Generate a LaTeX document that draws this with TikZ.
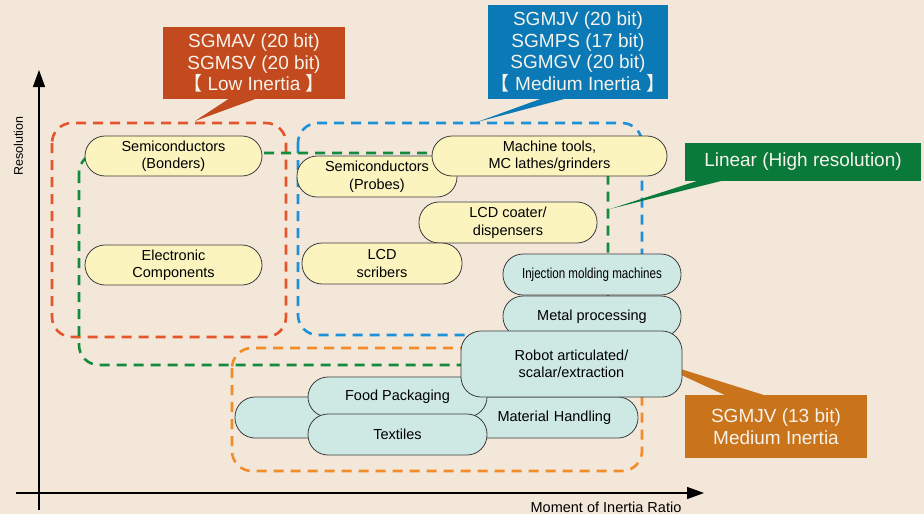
\documentclass[tikz,border=0pt]{standalone}
\usepackage{fontspec}
\setmainfont{Liberation Sans}
\newfontfamily\cjk{Noto Sans CJK SC}
\newfontfamily\narrowfont{Liberation Sans}[FakeStretch=0.8]
\usetikzlibrary{arrows.meta}
\definecolor{bgc}{HTML}{F3E7DA}
\definecolor{pillyel}{HTML}{FBF4BF}
\definecolor{pillteal}{HTML}{CEE8E3}
\definecolor{pilledge}{HTML}{3C3C3C}
\definecolor{redl}{HTML}{E4552B}
\definecolor{bluel}{HTML}{1E90D8}
\definecolor{greenl}{HTML}{138A3E}
\definecolor{orangel}{HTML}{F28C28}
\definecolor{redc}{HTML}{C24A1E}
\definecolor{bluec}{HTML}{0A79B5}
\definecolor{greenc}{HTML}{0A7A3B}
\definecolor{orangec}{HTML}{C9731B}
\definecolor{calltxt}{HTML}{F7F2EA}
\begin{document}
\begin{tikzpicture}[x=1pt,y=-1pt,
  pill/.style={rectangle, draw=pilledge, line width=0.8pt, rounded corners=20pt,
    align=center, inner sep=0pt, font=\fontsize{14.5}{17.5}\selectfont},
  yelpill/.style={pill, fill=pillyel},
  tealpill/.style={pill, fill=pillteal},
  grpbox/.style={dashed, dash pattern=on 10pt off 7pt, line width=2.6pt, rounded corners=20pt},
  callbox/.style={rectangle, inner sep=0pt, align=center, text=calltxt,
    font=\fontsize{19}{21.8}\selectfont},
  axisline/.style={line width=1.2pt, -{Triangle[length=17pt,width=12pt]}}]
\useasboundingbox (0,0) rectangle (924,514);
\fill[bgc] (0,0) rectangle (924,514);
\coordinate (ybot) at (39,510);
\coordinate (ytop) at (39,70);
\coordinate (xleft) at (16,493);
\coordinate (xright) at (704,493);
\draw[axisline] (ybot) -- (ytop);
\draw[axisline] (xleft) -- (xright);
\node (ylab) [rotate=90, font=\fontsize{12.5}{14}\selectfont] at (18.5,146) {Resolution};
\node (xlab) [font=\fontsize{14.5}{16}\selectfont] at (606,507) {Moment of Inertia Ratio};
\draw[grpbox, redl] (52,123) rectangle (286,337);
\draw[grpbox, bluel] (298,123) rectangle (642,335);
\draw[grpbox, greenl] (79,153) rectangle (608,365);
\draw[grpbox, orangel] (232,348) rectangle (642,471);
\coordinate (redtip) at (195,121);
\coordinate (reda) at (230,98);
\coordinate (redb) at (258,98);
\fill[redc] (reda) -- (redb) -- (redtip) -- cycle;
\node (lowinertia) [callbox, fill=redc, minimum width=182pt, minimum height=72pt] at (254,63)
  {SGMAV (20 bit)\\SGMSV (20 bit)\\{\cjk 【} Low Inertia {\cjk 】}};
\coordinate (bluetip) at (477,122);
\coordinate (bluea) at (543,98);
\coordinate (blueb) at (568,98);
\fill[bluec] (bluea) -- (blueb) -- (bluetip) -- cycle;
\node (medinertia) [callbox, fill=bluec, minimum width=180pt, minimum height=94pt] at (578,52)
  {SGMJV (20 bit)\\SGMPS (17 bit)\\SGMGV (20 bit)\\{\cjk 【} Medium Inertia {\cjk 】}};
\coordinate (greentip) at (610,209);
\coordinate (greena) at (700,180);
\coordinate (greenb) at (725,180);
\fill[greenc] (greena) -- (greenb) -- (greentip) -- cycle;
\node (linear) [callbox, fill=greenc, minimum width=236pt, minimum height=38pt] at (803,162)
  {Linear (High resolution)};
\coordinate (orangetip) at (642,357);
\coordinate (orangea) at (727,396);
\coordinate (orangeb) at (767,396);
\fill[orangec] (orangea) -- (orangeb) -- (orangetip) -- cycle;
\node (medinertiab) [callbox, fill=orangec, minimum width=182pt, minimum height=63pt] at (776,426.5)
  {SGMJV (13 bit)\\Medium Inertia};
\node (bonders) [yelpill, minimum width=177pt, minimum height=40pt] at (173.5,156) {Semiconductors\\(Bonders)};
\node (elec) [yelpill, minimum width=177pt, minimum height=40pt] at (173.5,265) {Electronic\\Components};
\node (probes) [yelpill, minimum width=160pt, minimum height=41pt] at (377,176.5) {Semiconductors\\(Probes)};
\node (machtools) [yelpill, minimum width=235pt, minimum height=40pt] at (549.5,156) {Machine tools,\\MC lathes/grinders};
\node (coater) [yelpill, minimum width=178pt, minimum height=41pt] at (508,222.5) {LCD coater/\\dispensers};
\node (scribers) [yelpill, minimum width=160pt, minimum height=41pt] at (382,263.5) {LCD\\scribers};
\node (injection) [tealpill, minimum width=178pt, minimum height=41pt] at (592,274.5) {\narrowfont Injection molding machines};
\node (metal) [tealpill, minimum width=178pt, minimum height=41pt] at (592,316.5) {Metal processing};
\node (handling) [tealpill, minimum width=403pt, minimum height=41pt, text width=380pt, align=left] at (436.5,417.5) {\hspace*{251pt}Material Handling};
\node (food) [tealpill, minimum width=179pt, minimum height=40pt] at (397.5,397) {Food Packaging};
\node (textiles) [tealpill, minimum width=179pt, minimum height=41pt] at (397.5,434.5) {Textiles};
\node (robot) [tealpill, minimum width=221pt, minimum height=66pt] at (571.5,364) {Robot articulated/\\scalar/extraction};
\end{tikzpicture}
\end{document}
